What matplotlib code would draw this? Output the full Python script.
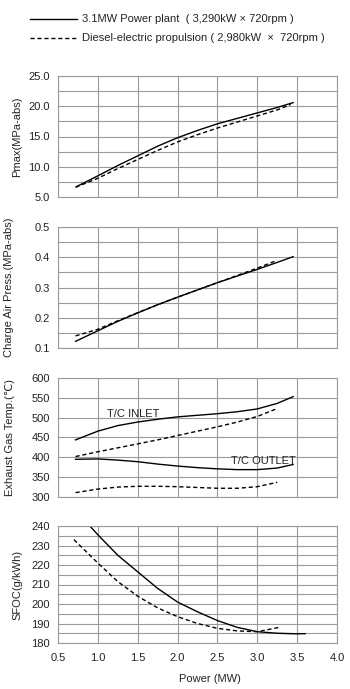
import numpy as np
import matplotlib
matplotlib.use('Agg')
import matplotlib.pyplot as plt
from matplotlib.lines import Line2D

plt.rcParams['font.family'] = ['Liberation Sans', 'DejaVu Sans']
plt.rcParams['font.size'] = 8

# ---- data ----
# Pmax (MPa-abs)
pm_x_a = [0.73, 1.0, 1.25, 1.5, 1.75, 2.0, 2.25, 2.5, 2.75, 3.0, 3.25, 3.45]
pm_y_a = [6.7, 8.5, 10.2, 11.8, 13.4, 14.8, 16.0, 17.1, 18.0, 18.9, 19.8, 20.6]
pm_x_b = [0.72, 1.0, 1.25, 1.5, 1.75, 2.0, 2.25, 2.5, 2.75, 3.0, 3.25, 3.42]
pm_y_b = [6.6, 8.1, 9.7, 11.2, 12.7, 14.1, 15.3, 16.4, 17.4, 18.4, 19.4, 20.3]

# Charge air pressure (MPa-abs)
ca_x_a = [0.72, 1.0, 1.25, 1.5, 1.75, 2.0, 2.25, 2.5, 2.75, 3.0, 3.25, 3.45]
ca_y_a = [0.122, 0.157, 0.188, 0.216, 0.243, 0.268, 0.292, 0.316, 0.338, 0.360, 0.383, 0.402]
ca_x_b = [0.72, 1.0, 1.25, 1.5, 1.75, 2.0, 2.25, 2.5, 2.75, 3.0, 3.25]
ca_y_b = [0.140, 0.162, 0.190, 0.217, 0.243, 0.268, 0.292, 0.316, 0.340, 0.364, 0.390]

# Exhaust gas temp
ex_x_a = [0.72, 1.0, 1.25, 1.5, 1.75, 2.0, 2.25, 2.5, 2.75, 3.0, 3.25, 3.45]
inlet_a = [444, 466, 480, 489, 496, 502, 506, 510, 515, 522, 536, 553]
outlet_a = [395, 396, 393, 389, 383, 378, 374, 371, 369, 369, 373, 382]
ex_x_b = [0.72, 1.0, 1.25, 1.5, 1.75, 2.0, 2.25, 2.5, 2.75, 3.0, 3.25]
inlet_b = [402, 414, 424, 434, 444, 455, 466, 477, 489, 503, 523]
outlet_b = [311, 320, 325, 327, 327, 326, 324, 322, 322, 326, 337]

# SFOC (g/kWh)
sf_x_a = [0.9, 1.0, 1.25, 1.5, 1.75, 2.0, 2.25, 2.5, 2.75, 3.0, 3.25, 3.5, 3.6]
sf_y_a = [240, 235.5, 225, 216.5, 208, 201, 196, 191.5, 188, 185.8, 185, 184.7, 184.8]
sf_x_b = [0.7, 1.0, 1.25, 1.5, 1.75, 2.0, 2.25, 2.5, 2.75, 3.0, 3.275]
sf_y_b = [233, 221, 211.5, 204, 198, 193.5, 190, 187.5, 186.2, 185.8, 188]

legend_a = '3.1MW Power plant  ( 3,290kW \u00d7 720rpm )'
legend_b = 'Diesel-electric propulsion ( 2,980kW  \u00d7  720rpm )'

W, H = 350, 689
fig = plt.figure(figsize=(W / 100, H / 100), dpi=100)

def frac(top, bottom):
    return [58 / W, 1 - bottom / H, (337 - 58) / W, (bottom - top) / H]

grid_c = '#9a9a9a'
dash = (0, (3, 2))

panels = [
    dict(box=frac(76, 197), ylim=(5, 25), ticks=np.arange(5, 25.1, 5), grid=np.arange(5, 25.1, 2.5),
         fmt='{:.1f}', label='Pmax(MPa-abs)', lx=22),
    dict(box=frac(227, 348), ylim=(0.1, 0.5), ticks=np.arange(0.1, 0.51, 0.1), grid=np.arange(0.1, 0.51, 0.05),
         fmt='{:.1f}', label='Charge Air Press.(MPa-abs)', lx=14),
    dict(box=frac(378, 497), ylim=(300, 600), ticks=np.arange(300, 601, 50), grid=np.arange(300, 601, 50),
         fmt='{:.0f}', label='Exhaust Gas Temp.(\u2103)', lx=15),
    dict(box=frac(526, 643), ylim=(180, 240), ticks=np.arange(180, 241, 10), grid=np.arange(180, 241, 5),
         fmt='{:.0f}', label='SFOC(g/kWh)', lx=22),
]

axes = []
for p in panels:
    ax = fig.add_axes(p['box'])
    ax.set_xlim(0.5, 4.0)
    ax.set_ylim(*p['ylim'])
    ax.set_yticks(p['ticks'])
    ax.set_yticklabels([p['fmt'].format(t) for t in p['ticks']])
    ax.set_yticks(p['grid'], minor=True)
    ax.set_xticks(np.arange(0.5, 4.01, 0.5))
    ax.grid(True, which='both', axis='y', color=grid_c, lw=0.8)
    ax.grid(True, which='major', axis='x', color=grid_c, lw=0.8)
    ax.tick_params(which='both', length=0, pad=6, labelcolor='#222222')
    for s in ax.spines.values():
        s.set_color(grid_c)
        s.set_linewidth(0.8)
    ax.set_ylabel(p['label'], color='#222222')
    ax.yaxis.set_label_coords((p['lx'] - 58) / (337 - 58), 0.5)
    axes.append(ax)

ax1, ax2, ax3, ax4 = axes
for ax in (ax1, ax2, ax3):
    ax.set_xticklabels([])

ax1.plot(pm_x_a, pm_y_a, color='black', lw=1.0)
ax1.plot(pm_x_b, pm_y_b, color='black', lw=1.0, ls=dash)

ax2.plot(ca_x_a, ca_y_a, color='black', lw=1.0)
ax2.plot(ca_x_b, ca_y_b, color='black', lw=1.0, ls=dash)

ax3.plot(ex_x_a, inlet_a, color='black', lw=1.0)
ax3.plot(ex_x_a, outlet_a, color='black', lw=1.0)
ax3.plot(ex_x_b, inlet_b, color='black', lw=1.0, ls=dash)
ax3.plot(ex_x_b, outlet_b, color='black', lw=1.0, ls=dash)
ax3.text(1.11, 509, 'T/C INLET', fontsize=8, va='center', color='#222222')
ax3.text(2.67, 392, 'T/C OUTLET', fontsize=8, va='center', color='#222222')

ax4.plot(sf_x_a, sf_y_a, color='black', lw=1.0)
ax4.plot(sf_x_b, sf_y_b, color='black', lw=1.0, ls=dash)
ax4.set_xticklabels(['{:.1f}'.format(t) for t in np.arange(0.5, 4.01, 0.5)])
ax4.tick_params(axis='x', pad=7)
ax4.set_xlabel('Power (MW)', color='#222222')
ax4.xaxis.set_label_coords((210 - 58) / (337 - 58), -0.265)

# legend at top
fig.add_artist(Line2D([30 / W, 77 / W], [1 - 19 / H] * 2, color='black', lw=1.0))
fig.add_artist(Line2D([30 / W, 77 / W], [1 - 38 / H] * 2, color='black', lw=1.0, ls=dash))
fig.text(82 / W, 1 - 19 / H, legend_a, va='center', fontsize=8, color='#222222')
fig.text(82 / W, 1 - 38 / H, legend_b, va='center', fontsize=8, color='#222222')

fig.savefig('out.png', dpi=100)
